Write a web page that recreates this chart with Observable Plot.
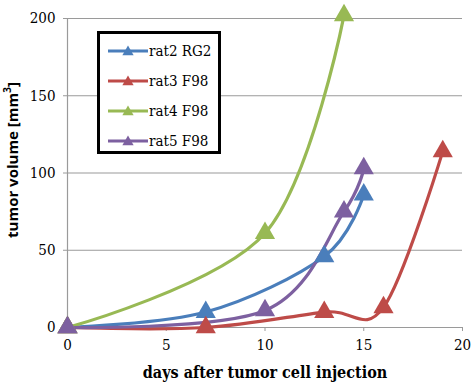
<!DOCTYPE html>
<html><head><meta charset="utf-8">
<script src="https://cdn.jsdelivr.net/npm/d3@7"></script>
<script src="https://cdn.jsdelivr.net/npm/@observablehq/plot@0.6"></script>
<style>
body{margin:0;background:#fff;}
#wrap{position:relative;width:474px;height:386px;}
#legend{position:absolute;left:97px;top:31px;width:118px;height:117px;border:3px solid #000;background:#fff;box-sizing:content-box;font-family:"DejaVu Serif Condensed","DejaVu Serif",serif;font-size:15px;}
.row{position:absolute;left:7px;height:20px;display:flex;align-items:center;}
.row svg{display:block}
</style></head>
<body><div id="wrap"><div id="legend"></div></div>
<script>
const seriesNames = ["rat2 RG2","rat3 F98","rat4 F98","rat5 F98"];
const seriesColors = ["#4A7EBB","#BE4B48","#98B954","#7D60A0"];
const rat2Days = [0,7,13,15];
const rat2Vol = [0,10,46,86];
const rat3Days = [0,7,13,16,19];
const rat3Vol = [0,0,10,13,114];
const rat4Days = [0,10,14];
const rat4Vol = [0,61,202];
const rat5Days = [0,10,14,15];
const rat5Vol = [0,11,75,103];
const xTicks = [0,5,10,15,20];
const yTicks = [0,50,100,150,200];

const serif = "'DejaVu Serif Condensed','DejaVu Serif',serif";
const allDays=[rat2Days,rat3Days,rat4Days,rat5Days];
const allVol=[rat2Vol,rat3Vol,rat4Vol,rat5Vol];
const data=[];
seriesNames.forEach((s,i)=>allDays[i].forEach((d,j)=>data.push({series:s,day:d,vol:allVol[i][j]})));
const plot = Plot.plot({
  width:474, height:386,
  marginLeft:67, marginRight:12, marginTop:18, marginBottom:59,
  x:{domain:[0,20], ticks:xTicks, label:null},
  y:{domain:[0,200], ticks:yTicks, label:null},
  color:{domain:seriesNames, range:seriesColors},
  style:{fontFamily:serif, fontSize:"15px", color:"#000", background:"#fff"},
  marks:[
    Plot.ruleY(yTicks.filter(d=>d>0),{stroke:"#9a9a9a",strokeWidth:1.2}),
    Plot.ruleX([0],{stroke:"#9a9a9a",strokeWidth:1.2}),
    Plot.ruleY([0],{stroke:"#9a9a9a",strokeWidth:1.2}),
    Plot.axisX({ticks:xTicks, tickSize:4, stroke:"#9a9a9a", tickPadding:8, fontSize:15, fontFamily:serif, tickFormat:d=>d}),
    Plot.axisY({ticks:yTicks, tickSize:4, stroke:"#9a9a9a", tickPadding:8, fontSize:15, fontFamily:serif, tickFormat:d=>d}),
    Plot.line(data,{x:"day",y:"vol",z:"series",stroke:"series",strokeWidth:3.2,curve:"cardinal"}),
    Plot.dot(data,{x:"day",y:"vol",fill:"series",symbol:"triangle",r:7.5,stroke:null}),
  ]
});
document.getElementById("wrap").prepend(plot);
const svg=d3.select(plot);
svg.append("text").attr("transform","translate(14,160) rotate(-90)").attr("text-anchor","middle").attr("dominant-baseline","middle")
  .style("font-family","'Open Sans',sans-serif").style("font-weight","bold").style("font-size","15px").html("tumor volume [mm<tspan dy='-6' font-size='10'>3</tspan><tspan dy='6'>]</tspan>");
svg.append("text").attr("x",265).attr("y",378).attr("text-anchor","middle")
  .style("font-family",serif).style("font-weight","bold").style("font-size","16px").text("days after tumor cell injection");

const leg=d3.select("#legend");
seriesNames.forEach((s,i)=>{
  const row=leg.append("div").attr("class","row").style("top",(7+i*30)+"px");
  const sv=row.append("svg").attr("width",42).attr("height",14);
  sv.append("line").attr("x1",1).attr("x2",41).attr("y1",7).attr("y2",7).attr("stroke",seriesColors[i]).attr("stroke-width",3.2);
  sv.append("path").attr("d",d3.symbol(d3.symbolTriangle,55)()).attr("transform","translate(21,8)").attr("fill",seriesColors[i]);
  row.append("span").text(s);
});
</script></body></html>
